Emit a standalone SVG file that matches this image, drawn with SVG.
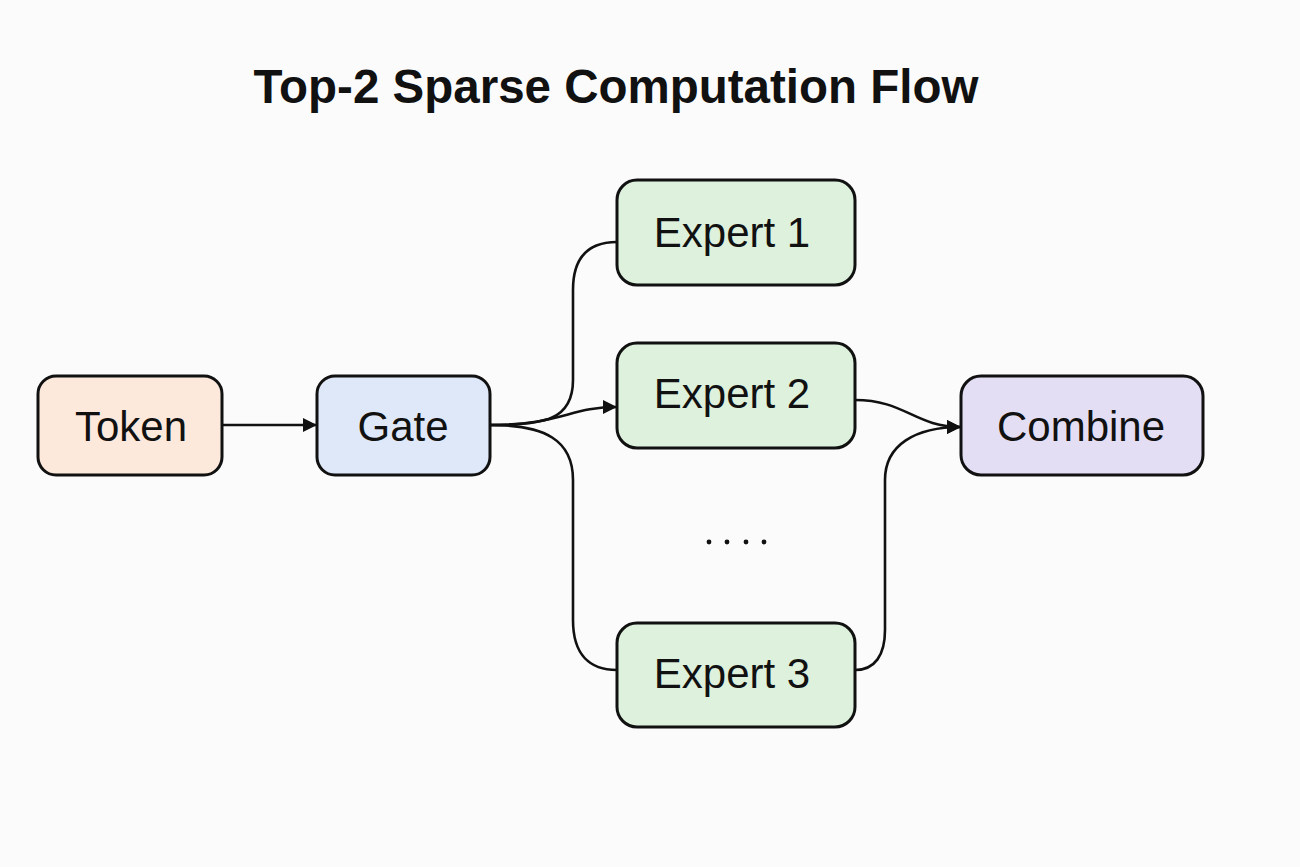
<svg xmlns="http://www.w3.org/2000/svg" width="1300" height="867" viewBox="0 0 1300 867">
<defs>
<style>
.box{stroke:#111;stroke-width:3}
.lbl{font-family:"Liberation Sans",Arial,sans-serif;font-size:42px;fill:#111;text-anchor:middle;dominant-baseline:central}
.edge{fill:none;stroke:#111;stroke-width:2.6}
</style>
<marker id="arr" viewBox="0 0 10 10" refX="10" refY="5" markerWidth="15" markerHeight="14" markerUnits="userSpaceOnUse" orient="auto">
<path d="M0,0 L10,5 L0,10 z" fill="#111"/>
</marker>
</defs>
<rect width="1300" height="867" fill="#fbfbfb"/>
<text x="616" y="86" font-family="Liberation Sans,Arial,sans-serif" font-size="47.5" font-weight="bold" fill="#111" text-anchor="middle" dominant-baseline="central">Top-2 Sparse Computation Flow</text>
<g id="connectors">
<path class="edge" d="M222,425 L317,425" marker-end="url(#arr)"/>
<path class="edge" d="M490,425 C545,425 573,420 573,380 L573,290 C573,255 590,242 617,242"/>
<path class="edge" d="M490,425 C560,425 570,407 617,407" marker-end="url(#arr)"/>
<path class="edge" d="M490,425 C545,425 573,440 573,480 L573,620 C573,655 590,670 617,670"/>
<path class="edge" d="M855,400 C905,400 915,427 961,427" marker-end="url(#arr)"/>
<path class="edge" d="M855,670 C875,670 885,655 885,630 L885,480 C885,445 915,427 961,427" marker-end="url(#arr)"/>
</g>
<g id="token"><rect class="box" x="38" y="376" width="184" height="99" rx="18" fill="#fde8dc"/><text class="lbl" x="131" y="426">Token</text></g>
<g id="gate"><rect class="box" x="317" y="376" width="173" height="99" rx="18" fill="#dfe8f8"/><text class="lbl" x="403" y="426">Gate</text></g>
<g id="expert1"><rect class="box" x="617" y="180" width="238" height="105" rx="20" fill="#ddf1dd"/><text class="lbl" x="732" y="232">Expert 1</text></g>
<g id="expert2"><rect class="box" x="617" y="343" width="238" height="105" rx="20" fill="#ddf1dd"/><text class="lbl" x="732" y="393">Expert 2</text></g>
<g id="expert3"><rect class="box" x="617" y="623" width="238" height="104" rx="20" fill="#ddf1dd"/><text class="lbl" x="732" y="673">Expert 3</text></g>
<g id="combine"><rect class="box" x="961" y="376" width="242" height="99" rx="20" fill="#e4def5"/><text class="lbl" x="1081" y="426">Combine</text></g>
<g id="dots" fill="#111"><circle cx="709" cy="542" r="2.4"/><circle cx="727" cy="542" r="2.4"/><circle cx="746" cy="542" r="2.4"/><circle cx="764" cy="542" r="2.4"/></g>
</svg>
